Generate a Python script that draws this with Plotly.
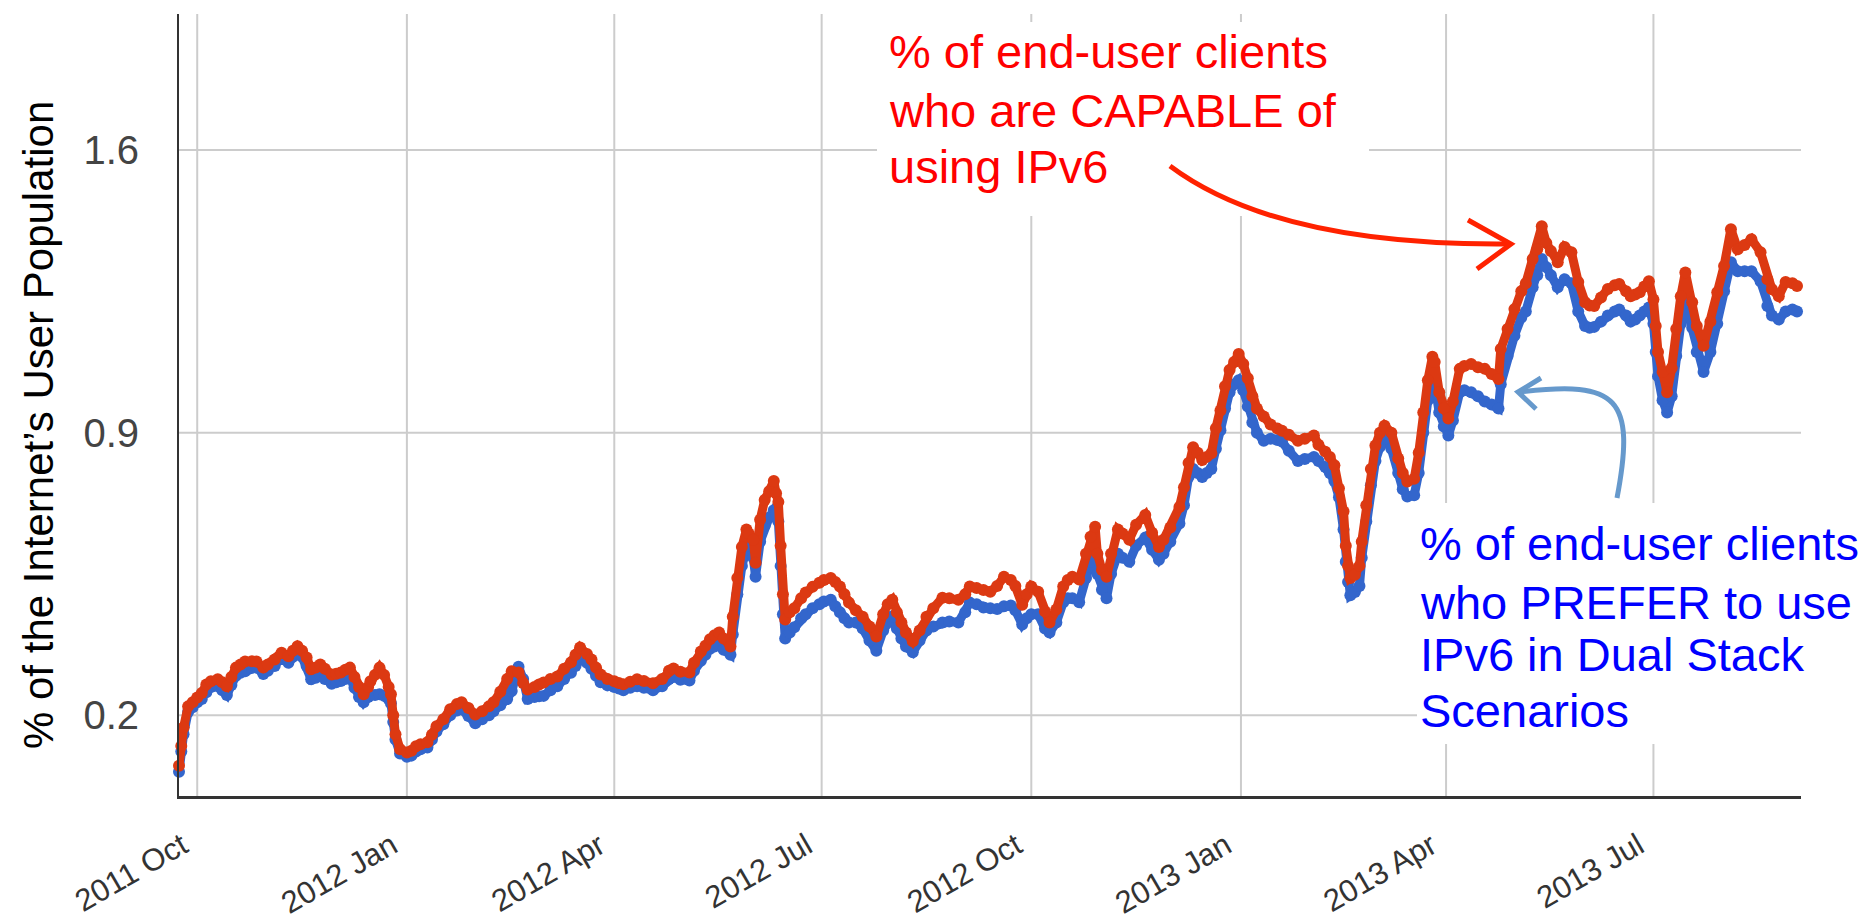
import pandas as pd
import plotly.graph_objects as go

# ---- data ----
start_date = "2011-10-01"
day_offset = [
    -8, -7, -6, -4, -2, 0, 2, 4, 6, 9,
    11, 13, 15, 17, 19, 21, 24, 26, 29, 31,
    34, 37, 40, 42, 44, 46, 48, 50, 52, 54,
    56, 59, 61, 63, 65, 67, 69, 71, 73, 75,
    76, 78, 80, 82, 84, 85, 86, 87, 89, 92,
    94, 96, 98, 101, 103, 105, 108, 111, 114, 116,
    119, 122, 125, 128, 130, 133, 136, 138, 141, 143,
    145, 148, 150, 152, 155, 158, 161, 164, 166, 168,
    171, 173, 175, 177, 180, 183, 185, 187, 190, 193,
    196, 200, 204, 207, 209, 212, 216, 218, 221, 223,
    225, 227, 229, 231, 234, 235, 237, 239, 241, 242,
    244, 245, 247, 249, 251, 253, 254, 255, 256, 257,
    258, 260, 262, 265, 267, 270, 273, 275, 278, 280,
    282, 284, 286, 289, 292, 295, 298, 301, 303, 305,
    307, 309, 311, 314, 317, 320, 323, 327, 330, 334,
    337, 339, 342, 345, 348, 351, 354, 357, 359, 362,
    364, 366, 369, 372, 374, 377, 380, 382, 384, 387,
    390, 392, 394, 395, 397, 399, 401, 404, 406, 409,
    412, 416, 419, 422, 424, 427, 431, 433, 435, 437,
    439, 441, 443, 445, 447, 449, 451, 453, 455, 457,
    459, 461, 463, 465, 468, 471, 474, 476, 479, 483,
    486, 490, 492, 495, 497, 499, 501, 503, 504, 505,
    506, 508, 510, 511, 513, 515, 517, 519, 521, 524,
    527, 529, 531, 534, 536, 538, 540, 542, 543, 545,
    547, 549, 551, 554, 556, 559, 562, 565, 568, 571,
    572, 575, 578, 581, 583, 586, 588, 590, 592, 594,
    597, 600, 603, 606, 609, 611, 613, 616, 619, 622,
    624, 627, 629, 631, 633, 635, 637, 639, 640, 641,
    643, 645, 647, 649, 651, 653, 656, 658, 661, 664,
    667, 670, 673, 676, 679, 682, 686, 689, 691, 694,
    697, 700, 702,
]
capable_pct = [
    .075, .124, .17, .222, .232, .244, .255, .276, .284, .289,
    .282, .272, .295, .318, .326, .333, .334, .333, .318, .326,
    .338, .355, .346, .36, .371, .36, .343, .314, .318, .326,
    .315, .301, .303, .306, .313, .318, .295, .27, .252, .27,
    .284, .3, .318, .3, .27, .252, .2, .153, .116, .108,
    .112, .123, .128, .133, .152, .173, .19, .215, .228, .232,
    .218, .202, .21, .222, .232, .258, .29, .309, .306, .28,
    .264, .27, .276, .281, .29, .296, .315, .331, .35, .368,
    .352, .338, .318, .301, .29, .284, .28, .277, .283, .289,
    .285, .279, .29, .31, .316, .308, .306, .33, .358, .372,
    .388, .398, .405, .39, .37, .444, .54, .617, .66, .65,
    .635, .578, .684, .733, .755, .78, .75, .728, .62, .5,
    .437, .455, .465, .49, .504, .518, .528, .535, .54, .53,
    .519, .5, .479, .46, .444, .42, .395, .45, .475, .486,
    .455, .43, .405, .383, .41, .444, .465, .491, .49, .486,
    .5, .519, .515, .51, .506, .52, .543, .535, .52, .474,
    .5, .519, .506, .457, .43, .462, .519, .535, .543, .536,
    .6, .642, .667, .6, .56, .543, .6, .66, .65, .635,
    .672, .696, .652, .617, .635, .665, .716, .765, .825, .864,
    .85, .832, .84, .849, .911, .955, 1.015, 1.055, 1.075, 1.095,
    1.07, 1.035, .99, .96, .94, .92, .91, .905, .895, .88,
    .885, .893, .87, .853, .84, .819, .762, .705, .62, .57,
    .54, .548, .57, .63, .72, .81, .868, .9, .917, .9,
    .836, .8, .779, .786, .85, .95, 1.03, 1.088, 1.075, 1.0,
    .96, .935, .977, 1.058, 1.065, 1.07, 1.062, 1.058, 1.045, 1.033,
    1.107, 1.157, 1.206, 1.25, 1.27, 1.33, 1.354, 1.411, 1.37, 1.35,
    1.322, 1.36, 1.347, 1.273, 1.223, 1.215, 1.214, 1.235, 1.256, 1.265,
    1.268, 1.25, 1.238, 1.242, 1.248, 1.262, 1.275, 1.23, 1.164, 1.1,
    1.05, 1.0, 1.06, 1.157, 1.238, 1.297, 1.223, 1.164, 1.115, 1.175,
    1.248, 1.313, 1.404, 1.354, 1.365, 1.379, 1.347, 1.28, 1.255, 1.238,
    1.273, 1.27, 1.263,
]
prefer_pct = [
    .06, .11, .153, .208, .22, .232, .24, .257, .27, .272,
    .262, .25, .275, .298, .305, .309, .318, .318, .302, .31,
    .322, .34, .33, .345, .355, .345, .322, .289, .293, .3,
    .29, .278, .282, .285, .29, .295, .268, .245, .232, .245,
    .25, .25, .252, .248, .24, .23, .183, .14, .105, .097,
    .1, .11, .116, .12, .14, .16, .178, .2, .212, .215,
    .198, .18, .19, .2, .21, .225, .24, .26, .32, .29,
    .24, .245, .247, .248, .262, .272, .29, .305, .322, .338,
    .33, .315, .298, .282, .274, .27, .266, .262, .268, .272,
    .268, .262, .272, .29, .295, .288, .286, .31, .335, .35,
    .365, .37, .375, .362, .35, .4, .5, .57, .61, .62,
    .59, .543, .63, .67, .69, .708, .7, .68, .57, .45,
    .39, .405, .418, .44, .45, .465, .475, .482, .486, .47,
    .455, .44, .43, .43, .415, .385, .36, .41, .43, .445,
    .415, .39, .37, .356, .385, .41, .42, .43, .432, .43,
    .455, .479, .475, .467, .465, .463, .47, .472, .46, .425,
    .44, .45, .45, .415, .405, .43, .48, .49, .49, .48,
    .54, .58, .61, .55, .511, .49, .55, .6, .59, .58,
    .62, .64, .61, .585, .6, .63, .675, .72, .79, .81,
    .8, .79, .8, .81, .86, .906, .96, 1.0, 1.02, 1.03,
    1.005, .965, .925, .9, .88, .885, .882, .878, .855, .83,
    .835, .84, .83, .815, .8, .78, .74, .66, .58, .53,
    .497, .505, .52, .59, .68, .77, .83, .865, .885, .86,
    .8, .76, .742, .745, .8, .9, .98, 1.033, 1.02, .95,
    .915, .893, .93, 1.0, 1.005, 1.0, .99, .977, .97, .96,
    1.02, 1.09, 1.14, 1.185, 1.2, 1.26, 1.29, 1.33, 1.31, 1.29,
    1.26, 1.28, 1.27, 1.2, 1.164, 1.16, 1.162, 1.175, 1.19, 1.2,
    1.205, 1.19, 1.175, 1.18, 1.19, 1.2, 1.21, 1.17, 1.1, 1.04,
    .98, .95, .99, 1.09, 1.17, 1.223, 1.16, 1.1, 1.05, 1.1,
    1.17, 1.25, 1.322, 1.3, 1.3, 1.3, 1.275, 1.214, 1.19, 1.18,
    1.2, 1.205, 1.2,
]
x_tick_dates = ["2011-10-01", "2012-01-01", "2012-04-01", "2012-07-01",
                "2012-10-01", "2013-01-01", "2013-04-01", "2013-07-01"]
x_tick_labels = ["2011 Oct", "2012 Jan", "2012 Apr", "2012 Jul",
                 "2012 Oct", "2013 Jan", "2013 Apr", "2013 Jul"]
y_tick_values = [0.2, 0.9, 1.6]
y_tick_labels = ["0.2", "0.9", "1.6"]

red_note = ["% of end-user clients", "who are CAPABLE of", "using IPv6"]
blue_note = ["% of end-user clients", "who PREFER to use",
             "IPv6 in Dual Stack", "Scenarios"]
y_title = "% of the Internet\u2019s User Population"

dates = pd.Timestamp(start_date) + pd.to_timedelta(day_offset, unit="D")

# ---- layout geometry (pixels) ----
W, H = 1872, 918
L, R, T, B = 171, 1793, 6, 788


def px(x):
    return (x - L) / (R - L)


def py(y):
    return (B - y) / (B - T)


FONT = "Arial, 'Liberation Sans', Helvetica, sans-serif"
GRID = dict(color="#cccccc", width=2)

fig = go.Figure()
fig.add_trace(go.Scatter(
    x=dates, y=prefer_pct, mode="lines+markers", name="prefer",
    line=dict(color="#3366cc", width=9),
    marker=dict(color="#3366cc", size=12),
    cliponaxis=False,
))
fig.add_trace(go.Scatter(
    x=dates, y=capable_pct, mode="lines+markers", name="capable",
    line=dict(color="#dc3912", width=9),
    marker=dict(color="#dc3912", size=12),
    cliponaxis=False,
))

shapes = []
# gridlines (drawn as shapes so the white note panels can cover them)
for d in x_tick_dates:
    shapes.append(dict(type="line", xref="x", yref="y domain",
                       x0=d, x1=d, y0=0, y1=1, line=GRID, layer="below"))
for v in y_tick_values:
    shapes.append(dict(type="line", xref="x domain", yref="y",
                       x0=0, x1=1, y0=v, y1=v, line=GRID, layer="below"))
# white panels behind the notes
shapes.append(dict(type="rect", xref="x domain", yref="y domain",
                   x0=px(869), x1=px(1361), y0=py(208), y1=py(14),
                   fillcolor="white", line=dict(width=0), layer="below"))
shapes.append(dict(type="rect", xref="x domain", yref="y domain",
                   x0=px(1409), x1=px(1800), y0=py(736), y1=py(495),
                   fillcolor="white", line=dict(width=0), layer="below"))

# red curved arrow
p0, c1, p1 = (1162, 158), (1269, 238), (1500, 236)
shapes.append(dict(
    type="path", xref="paper", yref="paper", layer="above",
    path=f"M {px(p0[0])},{py(p0[1])} Q {px(c1[0])},{py(c1[1])} {px(p1[0])},{py(p1[1])}",
    line=dict(color="#ff2200", width=5)))
shapes.append(dict(
    type="path", xref="paper", yref="paper", layer="above",
    path=f"M {px(1460)},{py(212)} L {px(1503)},{py(236)} L {px(1469)},{py(261)}",
    line=dict(color="#ff2200", width=5)))
# blue curved arrow
b0, bc1, bc2, b1 = (1609, 490), (1628, 390), (1610, 372), (1512, 384)
shapes.append(dict(
    type="path", xref="paper", yref="paper", layer="above",
    path=(f"M {px(b0[0])},{py(b0[1])} C {px(bc1[0])},{py(bc1[1])} "
          f"{px(bc2[0])},{py(bc2[1])} {px(b1[0])},{py(b1[1])}"),
    line=dict(color="#6699cc", width=5)))
shapes.append(dict(
    type="path", xref="paper", yref="paper", layer="above",
    path=f"M {px(1533)},{py(370)} L {px(1510)},{py(384)} L {px(1528)},{py(401)}",
    line=dict(color="#6699cc", width=5)))

annotations = []
for txt, yc in zip(red_note, [44, 103, 158]):
    annotations.append(dict(
        text=txt, xref="paper", yref="paper", x=px(880), y=py(yc),
        xanchor="left", yanchor="middle", showarrow=False, borderpad=0,
        font=dict(family=FONT, size=47, color="#ff0000")))
for txt, yc in zip(blue_note, [535, 594, 646, 702]):
    annotations.append(dict(
        text=txt, xref="paper", yref="paper", x=px(1411), y=py(yc),
        xanchor="left", yanchor="middle", showarrow=False, borderpad=0,
        font=dict(family=FONT, size=47, color="#0000ff")))
annotations.append(dict(
    text=y_title, xref="paper", yref="paper", x=px(30), y=py(417),
    xanchor="center", yanchor="middle", textangle=-90, showarrow=False,
    font=dict(family=FONT, size=42, color="#000000")))

fig.update_layout(
    width=W, height=H,
    margin=dict(l=L, r=W - R, t=T, b=H - B, autoexpand=False),
    paper_bgcolor="white", plot_bgcolor="white",
    showlegend=False,
    font=dict(family=FONT),
    shapes=shapes, annotations=annotations,
    xaxis=dict(
        type="date",
        range=["2011-09-23", "2013-09-03 18:00"],
        tickvals=x_tick_dates,
        # trailing no-break spaces pull each rotated label's end onto its tick
        ticktext=[t + "\u00a0\u00a0" for t in x_tick_labels],
        tickangle=-30, ticks="", ticklabelstandoff=8,
        tickfont=dict(family=FONT, size=31, color="#333333"),
        showgrid=False,
        showline=True, linecolor="#333333", linewidth=3,
        zeroline=False, automargin=False,
    ),
    yaxis=dict(
        range=[0, 1.937],
        tickvals=y_tick_values, ticktext=y_tick_labels,
        ticks="", ticklabelstandoff=30,
        tickfont=dict(family=FONT, size=40, color="#444444"),
        showgrid=False,
        showline=True, linecolor="#333333", linewidth=2,
        zeroline=False, automargin=False,
    ),
)

fig.write_html("out.html")
